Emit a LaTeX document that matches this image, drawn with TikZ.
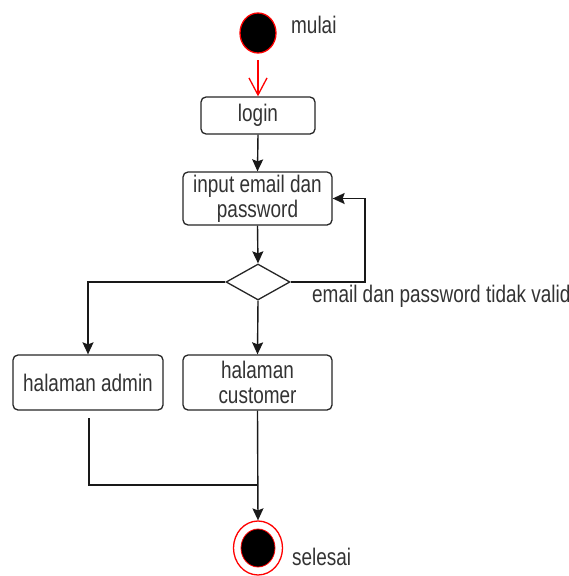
\documentclass[tikz,border=0pt]{standalone}
\usepackage{fontspec}
\setmainfont[FakeStretch=0.79]{Liberation Sans}
\usetikzlibrary{arrows.meta,shapes.geometric}
\definecolor{txt}{HTML}{333333}
\definecolor{ured}{HTML}{FF0000}
\tikzset{
  actbox/.style={draw=black!85, line width=1.3pt, rounded corners=5pt, fill=white,
    text=txt, align=center, inner sep=0pt, font=\fontsize{24}{24}\selectfont},
  lbl/.style={text=txt, inner sep=0pt, font=\fontsize{24}{24}\selectfont},
  flow/.style={draw=black!90, line width=1.4pt, -{Stealth[length=12pt,width=11pt,inset=2pt]}},
  plain/.style={draw=black!90, line width=1.4pt},
}
\begin{document}
\begin{tikzpicture}[x=1pt,y=-1pt]
\useasboundingbox (0,0) rectangle (569,576);
% start
\node[ellipse, draw=ured, fill=black, line width=1.3pt, minimum width=36pt, minimum height=40pt, inner sep=0pt] (start) at (258,33) {};
\node[lbl, anchor=west] (mulai) at (291,25) {mulai};
% boxes
\node[actbox, minimum width=114pt, minimum height=37pt] (login) at (258,115.5) {\raisebox{-2pt}{login}};
\node[actbox, minimum width=149pt, minimum height=53pt] (input) at (257.5,198.5) {\raisebox{-2pt}{input email dan}\\[1pt]\raisebox{-2pt}{password}};
\node[diamond, draw=black!85, line width=1.3pt, fill=white, minimum width=64pt, minimum height=36pt, inner sep=0pt] (dec) at (258,282) {};
\node[lbl, anchor=west] (invalid) at (312,296) {email dan password tidak valid};
\node[actbox, minimum width=150pt, minimum height=55pt] (admin) at (88,382.5) {\raisebox{-2pt}{halaman admin}};
\node[actbox, minimum width=149pt, minimum height=55pt] (cust) at (257.5,382.5) {\raisebox{-2pt}{halaman}\\[1pt]\raisebox{-2pt}{customer}};
% end
\node[ellipse, draw=ured, fill=white, line width=1.3pt, minimum width=49pt, minimum height=54pt, inner sep=0pt] (finish) at (258,548) {};
\node[ellipse, draw=ured, fill=black, line width=0.8pt, minimum width=34pt, minimum height=38pt, inner sep=0pt] (finishin) at (258,548) {};
\node[lbl, anchor=west] (selesai) at (292,557) {selesai};
% connectors
\coordinate (s0) at (258,60);
\draw[draw=ured, line width=1.3pt, -{Straight Barb[length=17pt,width=18pt]}] (s0) -- (login.north);
\draw[flow] (login.south) -- (input.north);
\draw[flow] (input.south) -- (dec.north);
\coordinate (loopc) at (365,282);
\draw[flow] (dec.east) -- (loopc) |- (input.east);
\draw[flow] (dec.west) -| (admin.north);
\draw[flow] (dec.south) -- (cust.north);
\coordinate (a0) at (89,418);
\coordinate (join) at (258,485);
\draw[plain] (a0) |- (join);
\draw[flow] (cust.south) -- (finish.north);
\end{tikzpicture}
\end{document}
